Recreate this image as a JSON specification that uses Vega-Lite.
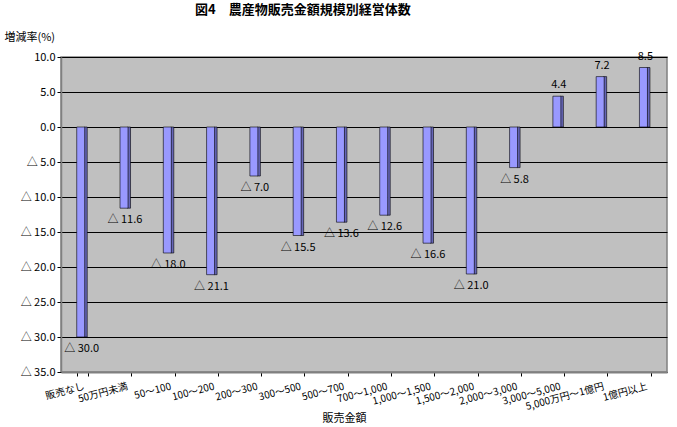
{
  "$schema": "https://vega.github.io/schema/vega-lite/v6.json",
  "autosize": "none",
  "width": 606,
  "height": 315,
  "padding": {"left": 61, "top": 57, "right": 10, "bottom": 55},
  "background": "white",
  "config": {
    "font": "Noto Sans CJK JP",
    "view": {"fill": "#C0C0C0", "stroke": "#808080", "strokeWidth": 1.5}
  },
  "title": {
    "text": "図4　農産物販売金額規模別経営体数",
    "fontSize": 13,
    "fontWeight": "bold",
    "color": "#000000",
    "anchor": "start",
    "frame": "group",
    "dx": 134,
    "offset": 14
  },
  "data": {
    "values": [
      {"cat": "販売なし", "v": -30.0, "label": "△ 30.0"},
      {"cat": "50万円未満", "v": -11.6, "label": "△ 11.6"},
      {"cat": "50～100", "v": -18.0, "label": "△ 18.0"},
      {"cat": "100～200", "v": -21.1, "label": "△ 21.1"},
      {"cat": "200～300", "v": -7.0, "label": "△ 7.0"},
      {"cat": "300～500", "v": -15.5, "label": "△ 15.5"},
      {"cat": "500～700", "v": -13.6, "label": "△ 13.6"},
      {"cat": "700～1,000", "v": -12.6, "label": "△ 12.6"},
      {"cat": "1,000～1,500", "v": -16.6, "label": "△ 16.6"},
      {"cat": "1,500～2,000", "v": -21.0, "label": "△ 21.0"},
      {"cat": "2,000～3,000", "v": -5.8, "label": "△ 5.8"},
      {"cat": "3,000～5,000", "v": 4.4, "label": "4.4"},
      {"cat": "5,000万円～1億円", "v": 7.2, "label": "7.2"},
      {"cat": "1億円以上", "v": 8.5, "label": "8.5"}
    ]
  },
  "encoding": {
    "x": {
      "field": "cat",
      "type": "nominal",
      "sort": null,
      "scale": {"paddingInner": 0.75, "paddingOuter": 0.375},
      "axis": {
        "title": "販売金額",
        "titleFontSize": 11,
        "titleFontWeight": "normal",
        "titleColor": "#000000",
        "titleX": 283,
        "titleY": 46,
        "titleBaseline": "middle",
        "labelAngle": -15,
        "labelAlign": "right",
        "labelBaseline": "top",
        "labelFontSize": 10,
        "labelColor": "#000000",
        "labelPadding": 5,
        "tickBand": "extent",
        "tickColor": "#000000",
        "tickSize": 4,
        "domainColor": "#808080",
        "domainWidth": 2
      }
    },
    "y": {
      "field": "v",
      "type": "quantitative",
      "scale": {"domain": [-35, 10], "nice": false},
      "axis": {
        "values": [-35, -30, -25, -20, -15, -10, -5, 0, 5, 10],
        "labelExpr": "datum.value < 0 ? '△ ' + format(-datum.value, '.1f') : format(datum.value, '.1f')",
        "labelFontSize": 11,
        "labelColor": "#000000",
        "labelPadding": 2,
        "tickSize": 4,
        "tickColor": "#000000",
        "domainColor": "#808080",
        "domainWidth": 1.5,
        "grid": true,
        "gridColor": "#000000",
        "gridWidth": 1,
        "title": "増減率(%)",
        "titleAngle": 0,
        "titleX": -57,
        "titleY": -20,
        "titleAlign": "left",
        "titleBaseline": "middle",
        "titleFontSize": 11,
        "titleFontWeight": "normal",
        "titleColor": "#000000"
      }
    }
  },
  "layer": [
    {
      "mark": {"type": "bar", "size": 3, "color": "#6666B8", "stroke": "#000000", "strokeWidth": 0.6},
      "encoding": {"xOffset": {"value": 8.5}}
    },
    {
      "mark": {"type": "bar", "size": 8, "color": "#9999FF", "stroke": "#000000", "strokeWidth": 0.6},
      "encoding": {"xOffset": {"value": 3.5}}
    },
    {
      "transform": [{"filter": "datum.v < 0"}],
      "mark": {"type": "text", "baseline": "top", "dy": 6, "dx": -1, "fontSize": 11, "color": "#000000"},
      "encoding": {"text": {"field": "label"}}
    },
    {
      "transform": [{"filter": "datum.v >= 0"}],
      "mark": {"type": "text", "baseline": "bottom", "dy": -6, "fontSize": 11, "color": "#000000"},
      "encoding": {"text": {"field": "label"}}
    }
  ]
}
